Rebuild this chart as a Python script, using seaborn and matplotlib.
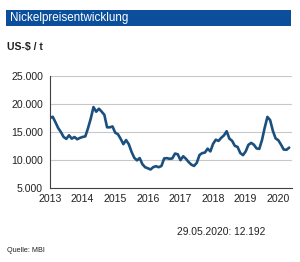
import matplotlib
matplotlib.use("Agg")
import matplotlib.pyplot as plt
import seaborn as sns
import pandas as pd
import numpy as np
from matplotlib.patches import Rectangle

years = [2013, 2014, 2015, 2016, 2017, 2018, 2019, 2020]
prices = [
    17470, 17690, 16720, 15680, 14970, 14090, 13750, 14380, 13790, 14080, 13680, 13920,
    14090, 14200, 15680, 17370, 19410, 18590, 19120, 18600, 18030, 15810, 15810, 15960,
    14850, 14570, 13750, 12810, 13530, 12790, 11440, 10380, 9930, 10320, 9240, 8700,
    8510, 8300, 8720, 8880, 8700, 8920, 10260, 10320, 10200, 10270, 11130, 11010,
    9960, 10650, 10210, 9630, 9160, 8930, 9480, 10870, 11210, 11310, 12000, 11520,
    12860, 13600, 13390, 13940, 14370, 15110, 13790, 13410, 12510, 12320, 11240, 10850,
    11510, 12690, 13030, 12720, 12050, 11960, 13540, 15750, 17660, 17080, 15180, 13840,
    13510, 12720, 11850, 11800, 12190,
]
y_ticks = [5000, 10000, 15000, 20000, 25000]
y_labels = ["5.000", "10.000", "15.000", "20.000", "25.000"]
title = "Nickelpreisentwicklung"
unit = "US-$ / t"
note = "29.05.2020: 12.192"
source = "Quelle: MBI"

t = [2013 + i / 12 for i in range(len(prices))]
df = pd.DataFrame({"t": t, "price": prices})

sns.set_style("white")
plt.rcParams["font.family"] = ["Liberation Sans", "DejaVu Sans"]

fig = plt.figure(figsize=(3.0, 2.62), dpi=100)
ax = fig.add_axes([50/300, 1-188/262, 242/300, (188-75.7)/262])

sns.lineplot(data=df, x="t", y="price", ax=ax, color="#1b4f7e", linewidth=1.9)

ax.set_xlim(2013, 2020.42)
ax.set_ylim(5000, 25000)
ax.set_yticks(y_ticks)
ax.set_yticklabels(y_labels)
ax.set_xticks(years)
ax.set_xticklabels([str(y) for y in years])
ax.set_xlabel("")
ax.set_ylabel("")
for v in y_ticks[1:]:
    ax.axhline(v, color="#c8c8c8", linewidth=0.8, zorder=0)
for s in ["top", "right"]:
    ax.spines[s].set_visible(False)
for s in ["left", "bottom"]:
    ax.spines[s].set_color("#404040")
    ax.spines[s].set_linewidth(0.8)
ax.tick_params(axis="y", direction="out", length=3, width=0.8, color="#404040",
               labelsize=7.6, pad=2, labelcolor="#222222")
ax.tick_params(axis="x", direction="inout", length=5, width=0.8, color="#404040",
               labelsize=7.6, pad=2, labelcolor="#222222")

fig.patches.append(Rectangle((6/300, 1-26/262), 285/300, 16/262, transform=fig.transFigure,
                             facecolor="#0b4f9c", edgecolor="none"))
fig.text(10/300, 1-18.5/262, title, color="white", fontsize=8.4, va="center", ha="left")
fig.text(7/300, 1-47/262, unit, color="#222222", fontsize=7.6, fontweight="bold",
         va="center", ha="left")
fig.text(221/300, 1-232/262, note, color="#222222", fontsize=7.4, va="center", ha="center")
fig.text(7/300, 1-250/262, source, color="#222222", fontsize=5.2, va="center", ha="left")

fig.savefig("out.png", dpi=100)
